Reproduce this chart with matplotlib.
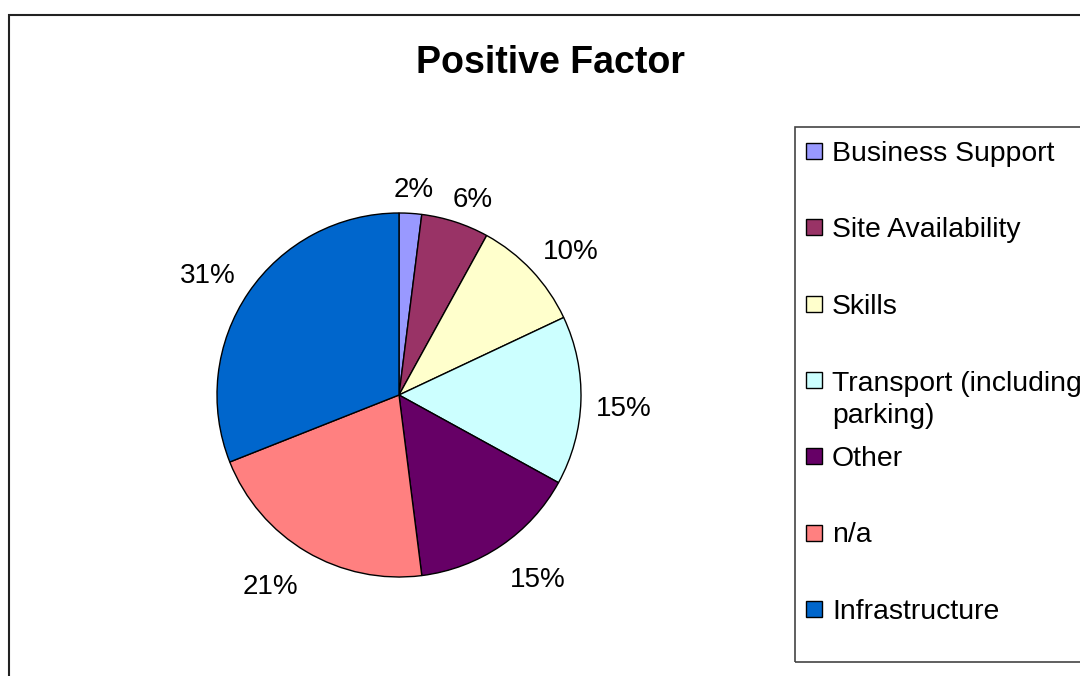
import numpy as np
import matplotlib.pyplot as plt
from matplotlib.patches import Rectangle

plt.rcParams['font.family'] = ['Liberation Sans', 'DejaVu Sans']

categories = ["Business Support", "Site Availability", "Skills",
              "Transport (including\nparking)", "Other", "n/a", "Infrastructure"]
values = [2, 6, 10, 15, 15, 21, 31]
colors = ["#9999FF", "#993366", "#FFFFCC", "#CCFFFF", "#660066", "#FF8080", "#0066CC"]

W, H = 1080, 676
fig = plt.figure(figsize=(W / 100, H / 100), dpi=100)


def fx(px):
    return px / W


def fy(py):
    return 1 - py / H


# outer chart frame (runs off the right and bottom edges)
fig.patches.append(Rectangle((fx(9), fy(700)), fx(1120), fy(15) - fy(700),
                             transform=fig.transFigure, fill=False,
                             edgecolor="#222222", linewidth=1.5))

fig.text(fx(551), fy(63), "Positive Factor", ha="center", va="center",
         fontsize=27, fontweight="bold")

# pie axes: centre (399, 395) px, radius 182 px, limits +-1.25
R_PX = 182
cx, cy = 399, 395
half = 1.25 * R_PX
ax = fig.add_axes([fx(cx - half), fy(cy + half), 2 * half / W, 2 * half / H])
wedges, _ = ax.pie(values, colors=colors, startangle=90, counterclock=False,
                   wedgeprops=dict(edgecolor="black", linewidth=1.0))
ax.set_xlim(-1.25, 1.25)
ax.set_ylim(-1.25, 1.25)
ax.set_aspect("equal")
ax.axis("off")

# percentage labels: the label box corner sits a fixed gap outside the rim
total = float(sum(values))
texts = []
for w, v in zip(wedges, values):
    t = ax.text(0, 0, "%d%%" % round(100 * v / total), fontsize=20,
                ha="center", va="center_baseline")
    texts.append(t)

fig.canvas.draw()
renderer = fig.canvas.get_renderer()
dist = 197
box_h = 30
for w, t in zip(wedges, texts):
    ang = np.deg2rad((w.theta1 + w.theta2) / 2)
    c, s = np.cos(ang), np.sin(ang)
    tw = t.get_window_extent(renderer).width
    px = dist * c + tw / 2 * np.clip(2 * c, -1, 1)
    py = dist * s + box_h / 2 * np.clip(2 * s, -1, 1) - 4
    t.set_position((px / R_PX, py / R_PX))

# legend box, drawn by hand so multi-line entries keep even row spacing
fig.patches.append(Rectangle((fx(795), fy(662)), fx(1120) - fx(795), fy(127) - fy(662),
                             transform=fig.transFigure, fill=False,
                             edgecolor="#444444", linewidth=1.2))
row0, step = 151, 76.3
line_gap = 33
for i, (lab, col) in enumerate(zip(categories, colors)):
    yc = row0 + i * step
    nlines = lab.count("\n") + 1
    fig.patches.append(Rectangle((fx(806), fy(yc + 8)), 16 / W, 16 / H,
                                 transform=fig.transFigure, facecolor=col,
                                 edgecolor="black", linewidth=1.0))
    fig.text(fx(832), fy(yc + 10 + (nlines - 1) * line_gap), lab, fontsize=20.4,
             ha="left", va="baseline", linespacing=1.31)

fig.savefig("out.png", dpi=100)
